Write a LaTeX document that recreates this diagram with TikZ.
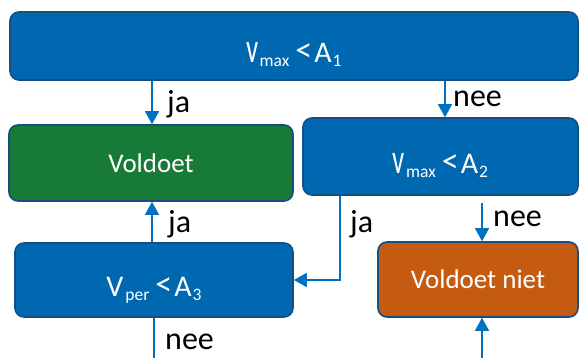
\documentclass[tikz,border=0pt]{standalone}
\usepackage{fontspec}
\setmainfont{Carlito}
\usetikzlibrary{arrows.meta}
\definecolor{bxblue}{RGB}{0,104,176}
\definecolor{bxgreen}{RGB}{23,122,55}
\definecolor{bxorange}{RGB}{197,90,17}
\definecolor{bxedge}{RGB}{22,78,128}
\definecolor{lnblue}{RGB}{0,112,192}
\newcommand{\sbs}[1]{\smash{\raisebox{-4pt}{\fontsize{17.5}{17.5}\selectfont #1}}}
\newcommand{\lv}{\scalebox{0.9}[1.4]{v}}
\newcommand{\lt}{\raisebox{1pt}{\fontsize{34}{34}\selectfont <}}
\begin{document}
\begin{tikzpicture}[x=1pt,y=-1pt,
 box/.style={draw=bxedge,line width=1.6pt,rounded corners=9pt,text=white,font=\fontsize{27}{30}\selectfont,inner sep=0pt},
 expr/.style={font=\fontsize{30}{32}\selectfont,text height=34pt,text depth=0pt},
 conn/.style={draw=lnblue,line width=1.4pt},
 arr/.style={conn,-{Triangle[width=14pt,length=13pt]}},
 lbl/.style={font=\fontsize{32}{34}\selectfont,text=black,inner sep=0pt,anchor=base west}]
\useasboundingbox (0,0) rectangle (579,358);
\node[box,expr,fill=bxblue,minimum width=568pt,minimum height=68pt] (top) at (294,46) {\lv\hspace{1pt}\sbs{max}\hspace{6pt}\lt\hspace{2pt}A\hspace{1pt}\sbs{1}};
\node[box,fill=bxgreen,minimum width=284pt,minimum height=76pt] (voldoet) at (151,163) {Voldoet};
\node[box,expr,fill=bxblue,minimum width=275pt,minimum height=77pt] (vmax2) at (440.5,156.5) {\lv\hspace{1pt}\sbs{max}\hspace{6pt}\lt\hspace{2pt}A\hspace{1pt}\sbs{2}};
\node[box,expr,fill=bxblue,minimum width=278pt,minimum height=74pt] (vper) at (154,280) {V\hspace{2pt}\sbs{per}\hspace{6pt}\lt\hspace{2pt}A\hspace{1pt}\sbs{3}};
\node[box,fill=bxorange,minimum width=200pt,minimum height=75pt] (niet) at (478,279.5) {Voldoet niet};
\coordinate (c152) at (152,0);
\coordinate (c154) at (154,0);
\coordinate (c340) at (340,0);
\coordinate (c445) at (445,0);
\coordinate (c482) at (482,0);
\coordinate (bot1) at (154,358);
\coordinate (bot2) at (482,358);
\draw[arr] (top.south -| c152) -- (voldoet.north -| c152);
\draw[arr] (top.south -| c445) -- (vmax2.north -| c445);
\draw[arr] (vper.north -| c152) -- (voldoet.south -| c152);
\draw[arr] (vmax2.south -| c340) |- (vper.east);
\draw[arr,shorten <=7pt] (vmax2.south -| c482) -- (niet.north -| c482);
\draw[conn] (vper.south -| c154) -- (bot1);
\draw[arr] (bot2) -- (niet.south -| c482);
\node[lbl] (l1) at (167,113) {ja};
\node[lbl] (l2) at (453,107) {nee};
\node[lbl] (l3) at (168,233) {ja};
\node[lbl] (l4) at (350,233) {ja};
\node[lbl] (l5) at (493,227) {nee};
\node[lbl] (l6) at (165,350) {nee};
\end{tikzpicture}
\end{document}
